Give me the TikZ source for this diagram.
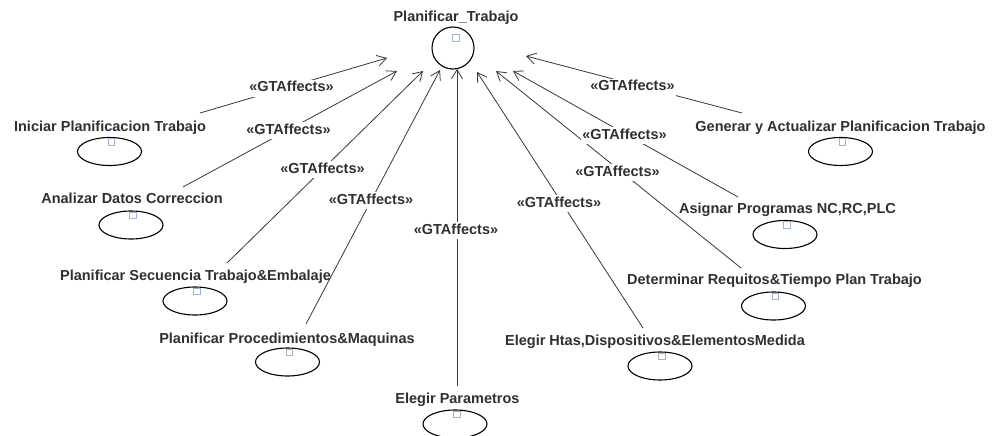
\documentclass[tikz,border=0pt]{standalone}
\usepackage{fontspec}
\setmainfont{Liberation Sans}
\usetikzlibrary{shapes.geometric,arrows.meta}
\definecolor{txt}{HTML}{303030}
\definecolor{linec}{HTML}{383838}
\definecolor{markc}{HTML}{9EB3CF}
\newcommand{\lblfont}{\fontsize{14.5}{17}\selectfont\bfseries}
\tikzset{
  uclabel/.style={font=\lblfont, text=txt, anchor=base, inner sep=0pt},
  ucshape/.style={draw=black, ellipse, minimum width=64pt, minimum height=28pt, inner sep=0pt, line width=1.1pt},
  goalshape/.style={draw=black, circle, minimum size=42pt, inner sep=0pt, line width=1.1pt},
  marker/.style={draw=markc, fill=white, minimum size=6.5pt, inner sep=0pt, line width=0.9pt},
  rel/.style={draw=linec, line width=0.8pt, -{Straight Barb[length=9pt,width=11pt,line width=0.8pt]}},
  stereo/.style={font=\lblfont, text=txt, fill=white, anchor=base, text height=11pt, text depth=3pt, inner xsep=1pt, inner ysep=1.5pt}
}
\begin{document}
\begin{tikzpicture}[x=1pt,y=-1pt]
\fill[white] (0,0) rectangle (993,436);
\useasboundingbox (0,0) rectangle (993,436);

% goal
\node[goalshape] (goal) at (453,48) {};
\node[marker] (goalm) at (456,38) {};
\node[uclabel] (goalt) at (456,22) {Planificar\_Trabajo};

% use cases: label, ellipse, marker
\node[uclabel] (init) at (110,131) {Iniciar Planificacion Trabajo};
\node[ucshape] (ini) at (109.5,151.5) {};
\node[marker] (inim) at (111.5,142) {};

\node[uclabel] (anat) at (132,203) {Analizar Datos Correccion};
\node[ucshape] (ana) at (131,225) {};
\node[marker] (anam) at (133,215.5) {};

\node[uclabel] (sect) at (195.5,280) {Planificar Secuencia Trabajo\&Embalaje};
\node[ucshape] (sec) at (195,301) {};
\node[marker] (secm) at (197,291.5) {};

\node[uclabel] (prot) at (287,343) {Planificar Procedimientos\&Maquinas};
\node[ucshape] (pro) at (287.5,362) {};
\node[marker] (prom) at (289.5,352.5) {};

\node[uclabel] (part) at (457.5,403) {Elegir Parametros};
\node[ucshape] (par) at (455,424) {};
\node[marker] (parm) at (457,414.5) {};

\node[uclabel] (htat) at (655,345) {Elegir Htas,Dispositivos\&ElementosMedida};
\node[ucshape] (hta) at (660,366) {};
\node[marker] (htam) at (662,356.5) {};

\node[uclabel] (dett) at (774.5,284) {Determinar Requitos\&Tiempo Plan Trabajo};
\node[ucshape] (det) at (773.5,306) {};
\node[marker] (detm) at (775.5,296.5) {};

\node[uclabel] (asit) at (787.5,213) {Asignar Programas NC,RC,PLC};
\node[ucshape] (asi) at (785,234.5) {};
\node[marker] (asim) at (787,225) {};

\node[uclabel] (gent) at (840.5,131) {Generar y Actualizar Planificacion Trabajo};
\node[ucshape] (gen) at (840.5,151.5) {};
\node[marker] (genm) at (842.5,142) {};

% connector ends
\coordinate (f1) at (200,113);  \coordinate (t1) at (387,58);
\coordinate (f2) at (183,187);  \coordinate (t2) at (397,71);
\coordinate (f3) at (227,263);  \coordinate (t3) at (423,71);
\coordinate (f4) at (306,324);  \coordinate (t4) at (440,70);
\coordinate (f5) at (457,386);  \coordinate (t5) at (457,69);
\coordinate (f6) at (643,328);  \coordinate (t6) at (477,72);
\coordinate (f7) at (741,268);  \coordinate (t7) at (496,71);
\coordinate (f8) at (738,197);  \coordinate (t8) at (513,71);
\coordinate (f9) at (742,113);  \coordinate (t9) at (526,56);

\foreach \i in {1,...,9} { \draw[rel] (f\i) -- (t\i); }

% stereotype labels
\node[stereo] (s1) at (291.5,92) {«GTAffects»};
\node[stereo] (s2) at (288.5,134) {«GTAffects»};
\node[stereo] (s3) at (322.5,173) {«GTAffects»};
\node[stereo] (s4) at (371,204) {«GTAffects»};
\node[stereo] (s5) at (456,234) {«GTAffects»};
\node[stereo] (s6) at (559,207) {«GTAffects»};
\node[stereo] (s7) at (617.5,176) {«GTAffects»};
\node[stereo] (s8) at (624.5,139) {«GTAffects»};
\node[stereo] (s9) at (632.5,91) {«GTAffects»};
\end{tikzpicture}
\end{document}
